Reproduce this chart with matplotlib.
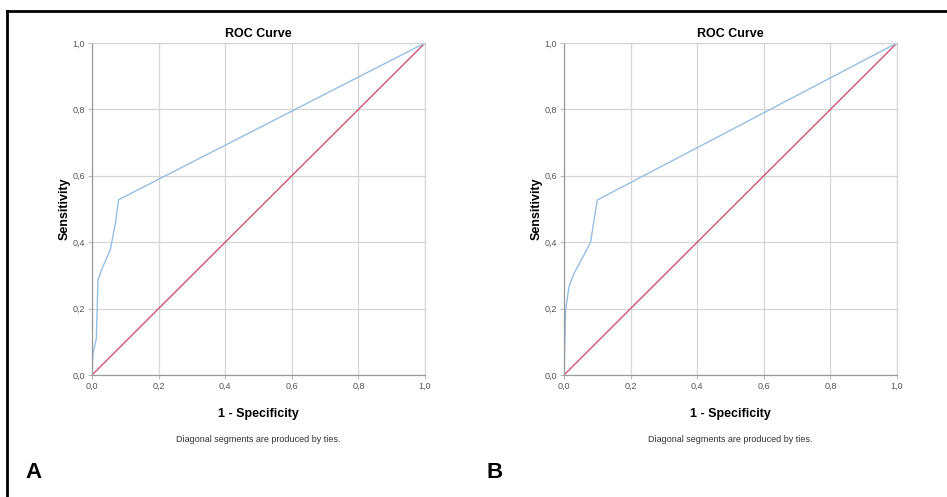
import matplotlib
matplotlib.use("Agg")
import matplotlib.pyplot as plt
from matplotlib.lines import Line2D

plt.rcParams['font.family'] = ['Liberation Sans', 'DejaVu Sans']

# ROC curve points (1 - specificity, sensitivity)
fpr_a = [0.0, 0.003, 0.013, 0.018, 0.03, 0.055, 0.07, 0.08, 1.0]
tpr_a = [0.0, 0.065, 0.11, 0.286, 0.32, 0.377, 0.456, 0.528, 1.0]

fpr_b = [0.0, 0.005, 0.015, 0.03, 0.057, 0.08, 0.09, 0.1, 1.0]
tpr_b = [0.0, 0.196, 0.266, 0.306, 0.356, 0.40, 0.466, 0.527, 1.0]

ref_line = [0.0, 1.0]
ticks = [0.0, 0.2, 0.4, 0.6, 0.8, 1.0]
tick_labels = ["0,0", "0,2", "0,4", "0,6", "0,8", "1,0"]
panels = ["A", "B"]

fig = plt.figure(figsize=(9.47, 4.97), dpi=100)

lefts = [92 / 947, 564 / 947]
curves = [(fpr_a, tpr_a), (fpr_b, tpr_b)]

for left, (fx, ty), name in zip(lefts, curves, panels):
    ax = fig.add_axes([left, 1 - 375 / 497, 333 / 947, 332 / 497])
    ax.plot(ref_line, ref_line, color="#cc5573", lw=1.0, solid_capstyle="butt")
    ax.plot(fx, ty, color="#96bfe3", lw=1.0)
    ax.set_xlim(0, 1)
    ax.set_ylim(0, 1)
    ax.set_xticks(ticks)
    ax.set_xticklabels(tick_labels)
    ax.set_yticks(ticks)
    ax.set_yticklabels(tick_labels)
    ax.tick_params(labelsize=6.5, colors="#555555", length=3, width=0.8,
                   color="#bbbbbb", pad=2)
    ax.grid(True, color="#d6d6d6", lw=0.9)
    ax.set_axisbelow(True)
    for s in ["top", "right"]:
        ax.spines[s].set_color("#d6d6d6")
        ax.spines[s].set_linewidth(0.9)
    for s in ["left", "bottom"]:
        ax.spines[s].set_color("#9a9a9a")
        ax.spines[s].set_linewidth(0.9)
    ax.set_title("ROC Curve", fontsize=9, fontweight="bold", pad=4)
    ax.set_xlabel("1 - Specificity", fontsize=9, fontweight="bold", labelpad=12)
    ax.set_ylabel("Sensitivity", fontsize=9, fontweight="bold", labelpad=1)
    cx = left + 333 / 947 / 2
    fig.text(cx, 1 - 440 / 497, "Diagonal segments are produced by ties.",
             fontsize=6.5, color="#333333", ha="center", va="center")

fig.text(25 / 947, 1 - 472 / 497, "A", fontsize=16, fontweight="bold",
         ha="left", va="center")
fig.text(486 / 947, 1 - 472 / 497, "B", fontsize=16, fontweight="bold",
         ha="left", va="center")

# frame lines at top and left of the figure
fig.add_artist(Line2D([7 / 947, 1], [1 - 11 / 497, 1 - 11 / 497],
                      color="black", lw=2, transform=fig.transFigure))
fig.add_artist(Line2D([7 / 947, 7 / 947], [0, 1 - 11 / 497],
                      color="black", lw=2, transform=fig.transFigure))

fig.savefig("out.png", dpi=100)
